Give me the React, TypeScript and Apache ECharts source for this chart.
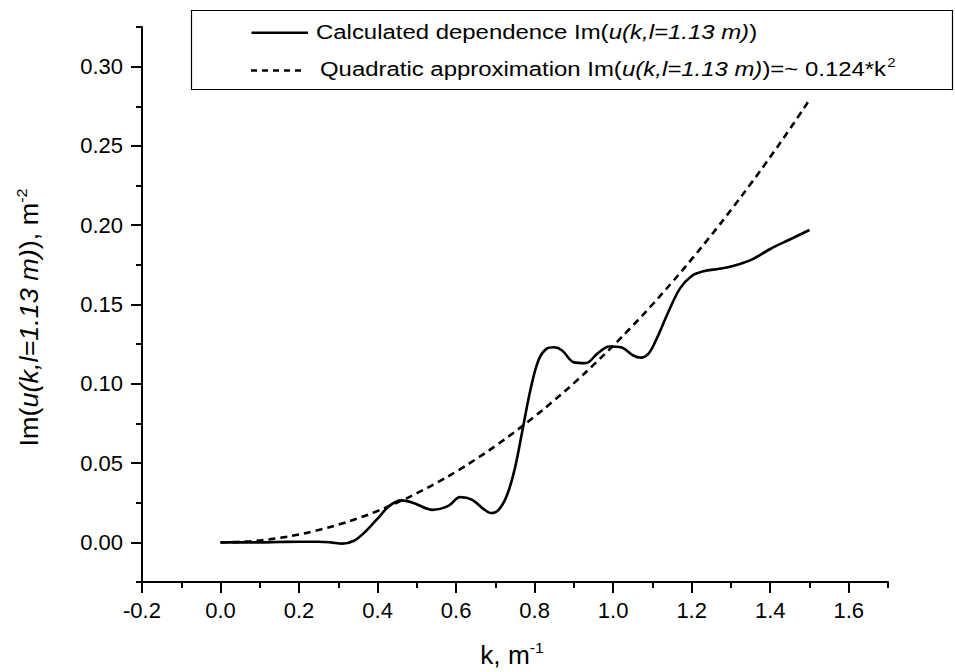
import React, { useEffect, useRef } from "react";
import * as echarts from "echarts";

const FONT = "'Liberation Sans', Arial, sans-serif";

// Calculated dependence Im(u(k, l=1.13 m))
const calcK = [0, 0.05, 0.1, 0.15, 0.2, 0.25, 0.28, 0.31, 0.34, 0.37, 0.4, 0.43, 0.46, 0.49, 0.54, 0.58, 0.61, 0.64, 0.67, 0.69, 0.71, 0.73, 0.75, 0.77, 0.79, 0.81, 0.83, 0.85, 0.87, 0.9, 0.93, 0.96, 0.99, 1.02, 1.05, 1.07, 1.09, 1.11, 1.14, 1.17, 1.2, 1.23, 1.27, 1.3, 1.35, 1.4, 1.45, 1.5];
const calcV = [0, 0, 0, 0.0002, 0.0004, 0.0004, 0, -0.0008, 0.001, 0.007, 0.015, 0.023, 0.0265, 0.025, 0.0205, 0.023, 0.0285, 0.027, 0.021, 0.0185, 0.021, 0.03, 0.047, 0.072, 0.097, 0.115, 0.122, 0.123, 0.121, 0.1135, 0.113, 0.119, 0.1235, 0.123, 0.118, 0.1165, 0.119, 0.128, 0.145, 0.16, 0.168, 0.171, 0.1725, 0.174, 0.178, 0.185, 0.191, 0.197];

// Quadratic approximation
const quadK = [0, 0.05, 0.1, 0.15, 0.2, 0.25, 0.3, 0.35, 0.4, 0.45, 0.5, 0.55, 0.6, 0.65, 0.7, 0.75, 0.8, 0.85, 0.9, 0.95, 1.0, 1.05, 1.1, 1.15, 1.2, 1.25, 1.3, 1.35, 1.4, 1.45, 1.5];
const quadV = [0, 0.0003, 0.0012, 0.0028, 0.005, 0.0078, 0.0112, 0.0152, 0.0198, 0.0251, 0.031, 0.0375, 0.0446, 0.0524, 0.0608, 0.0698, 0.0794, 0.0896, 0.1004, 0.1119, 0.124, 0.1367, 0.15, 0.164, 0.1786, 0.1938, 0.2096, 0.226, 0.243, 0.2607, 0.279];

const xMajorTicks = [-0.2, 0, 0.2, 0.4, 0.6, 0.8, 1.0, 1.2, 1.4, 1.6];
const yMajorTicks = [0, 0.05, 0.1, 0.15, 0.2, 0.25, 0.3];

const legendNames = ["Calculated dependence", "Quadratic approximation"];

export default function App() {
  const ref = useRef<HTMLDivElement>(null);
  useEffect(() => {
    if (!ref.current) return;
    const chart = echarts.init(ref.current, null, { renderer: "svg" });
    const axisCommon = {
      axisLine: { show: true, onZero: false, lineStyle: { color: "#000", width: 2 } },
      splitLine: { show: false },
    };
    const rich = {
      n: { fontSize: 21, fontFamily: FONT, color: "#000", lineHeight: 26 },
      i: { fontSize: 21, fontFamily: FONT, color: "#000", fontStyle: "italic", lineHeight: 26 },
      s: { fontSize: 13, fontFamily: FONT, color: "#000", verticalAlign: "top", lineHeight: 26, padding: [0, 0, 0, 1] },
    };
    const titleRich = {
      n: { fontSize: 25, fontFamily: FONT, color: "#000", lineHeight: 30 },
      i: { fontSize: 25, fontFamily: FONT, color: "#000", fontStyle: "italic", lineHeight: 30 },
      s: { fontSize: 15, fontFamily: FONT, color: "#000", verticalAlign: "top", lineHeight: 30 },
    };
    const option: any = {
      animation: false,
      backgroundColor: "#fff",
      grid: { left: 142, right: 67, top: 27, bottom: 90 },
      xAxis: [
        {
          type: "value", min: -0.2, max: 1.7, interval: 0.1, position: "bottom",
          ...axisCommon,
          axisTick: { show: true, inside: false, length: 6, lineStyle: { color: "#000", width: 2 } },
          axisLabel: { show: false },
        },
        {
          type: "value", min: -0.2, max: 1.7, position: "bottom",
          axisLine: { show: false, onZero: false }, splitLine: { show: false },
          axisTick: { show: true, inside: false, length: 11, customValues: xMajorTicks, lineStyle: { color: "#000", width: 2 } },
          axisLabel: { show: true, customValues: xMajorTicks, formatter: (v: number) => v.toFixed(1), fontSize: 22, fontFamily: FONT, color: "#000", margin: 17 },
        },
      ],
      yAxis: [
        {
          type: "value", min: -0.025, max: 0.325, interval: 0.025, position: "left",
          ...axisCommon,
          axisTick: { show: true, inside: false, length: 6, lineStyle: { color: "#000", width: 2 } },
          axisLabel: { show: false },
        },
        {
          type: "value", min: -0.025, max: 0.325, position: "left",
          axisLine: { show: false, onZero: false }, splitLine: { show: false },
          axisTick: { show: true, inside: false, length: 11, customValues: yMajorTicks, lineStyle: { color: "#000", width: 2 } },
          axisLabel: { show: true, customValues: yMajorTicks, formatter: (v: number) => v.toFixed(2), fontSize: 22, fontFamily: FONT, color: "#000", margin: 19 },
        },
      ],
      series: [
        {
          name: legendNames[0], type: "line", xAxisIndex: 0, yAxisIndex: 0,
          data: calcK.map((k, i) => [k, calcV[i]]),
          smooth: 0.35, showSymbol: false, symbol: "none",
          lineStyle: { color: "#000", width: 2.6, type: "solid" },
        },
        {
          name: legendNames[1], type: "line", xAxisIndex: 0, yAxisIndex: 0,
          data: quadK.map((k, i) => [k, quadV[i]]),
          smooth: true, showSymbol: false, symbol: "none",
          lineStyle: { color: "#000", width: 2.6, type: [7, 5] },
        },
      ],
      graphic: [
        { type: "rect", shape: { x: 191.5, y: 10.5, width: 761, height: 79 }, style: { fill: "#fff", stroke: "#000", lineWidth: 1.2 }, z: 10 },
        { type: "line", shape: { x1: 251.5, y1: 32.7, x2: 308, y2: 32.7 }, style: { stroke: "#000", lineWidth: 2.6 }, z: 11 },
        { type: "line", shape: { x1: 251, y1: 70.5, x2: 302, y2: 70.5 }, style: { stroke: "#000", lineWidth: 2.6, lineDash: [6, 5] }, z: 11 },
        {
          type: "text", x: 316, y: 32.5, scaleX: 1.14, z: 11,
          style: {
            text: "{n|Calculated dependence Im(}{i|u(k,l=1.13 m)}{n|)}",
            rich, verticalAlign: "middle", align: "left",
          },
        },
        {
          type: "text", x: 320, y: 69.3, scaleX: 1.14, z: 11,
          style: {
            text: "{n|Quadratic approximation Im(}{i|u(k,l=1.13 m)}{n|)=~ 0.124*k}{s|2}",
            rich, verticalAlign: "middle", align: "left",
          },
        },
        {
          type: "text", x: 512, y: 655, scaleX: 1.05, z: 11,
          style: {
            text: "{n|k, m}{s|-1}",
            rich: titleRich, verticalAlign: "middle", align: "center",
          },
        },
        {
          type: "text", x: 29, y: 317.5, rotation: Math.PI / 2, scaleX: 1.08, z: 11,
          style: {
            text: "{n|Im(}{i|u(k,l=1.13 m)}{n|), m}{s|-2}",
            rich: titleRich, verticalAlign: "middle", align: "center",
          },
        },
      ],
    };
    chart.setOption(option);
    return () => chart.dispose();
  }, []);
  return (
    <div
      ref={ref}
      style={{ position: "fixed", left: 0, top: 0, width: 955, height: 672, background: "#fff" }}
    />
  );
}
